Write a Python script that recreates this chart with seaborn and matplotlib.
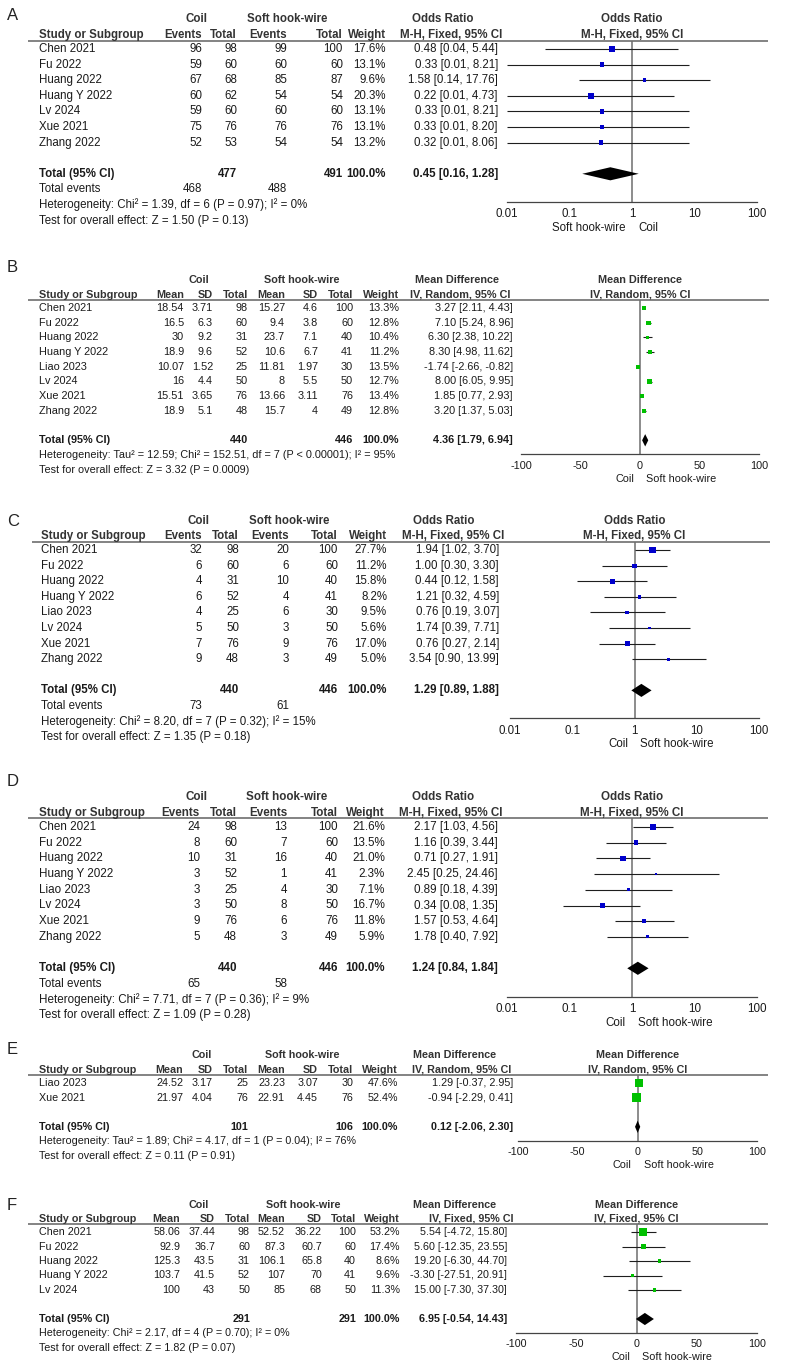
import numpy as np
import pandas as pd
import matplotlib
matplotlib.use("Agg")
import matplotlib.pyplot as plt
from matplotlib.ticker import NullLocator
import seaborn as sns

# ------------------------------------------------------------------ data
# Panel A (odds ratio)
studies_A = ["Chen 2021", "Fu 2022", "Huang 2022", "Huang Y 2022", "Lv 2024", "Xue 2021", "Zhang 2022"]
coil_ev_A = [96, 59, 67, 60, 59, 75, 52]
coil_n_A = [98, 60, 68, 62, 60, 76, 53]
soft_ev_A = [99, 60, 85, 54, 60, 76, 54]
soft_n_A = [100, 60, 87, 54, 60, 76, 54]
weight_A = [17.6, 13.1, 9.6, 20.3, 13.1, 13.1, 13.2]
est_A = [0.48, 0.33, 1.58, 0.22, 0.33, 0.33, 0.32]
lo_A = [0.04, 0.01, 0.14, 0.01, 0.01, 0.01, 0.01]
hi_A = [5.44, 8.21, 17.76, 4.73, 8.21, 8.20, 8.06]
total_A = [0.45, 0.16, 1.28]
total_n_A = [477, 491]
total_ev_A = [468, 488]
het_A = "Heterogeneity: Chi² = 1.39, df = 6 (P = 0.97); I² = 0%"
test_A = "Test for overall effect: Z = 1.50 (P = 0.13)"

# Panel B (mean difference, random)
studies_B = ["Chen 2021", "Fu 2022", "Huang 2022", "Huang Y 2022", "Liao 2023", "Lv 2024", "Xue 2021", "Zhang 2022"]
coil_mean_B = [18.54, 16.5, 30, 18.9, 10.07, 16, 15.51, 18.9]
coil_sd_B = [3.71, 6.3, 9.2, 9.6, 1.52, 4.4, 3.65, 5.1]
coil_n_B = [98, 60, 31, 52, 25, 50, 76, 48]
soft_mean_B = [15.27, 9.4, 23.7, 10.6, 11.81, 8, 13.66, 15.7]
soft_sd_B = [4.6, 3.8, 7.1, 6.7, 1.97, 5.5, 3.11, 4]
soft_n_B = [100, 60, 40, 41, 30, 50, 76, 49]
weight_B = [13.3, 12.8, 10.4, 11.2, 13.5, 12.7, 13.4, 12.8]
est_B = [3.27, 7.10, 6.30, 8.30, -1.74, 8.00, 1.85, 3.20]
lo_B = [2.11, 5.24, 2.38, 4.98, -2.66, 6.05, 0.77, 1.37]
hi_B = [4.43, 8.96, 10.22, 11.62, -0.82, 9.95, 2.93, 5.03]
total_B = [4.36, 1.79, 6.94]
total_n_B = [440, 446]
het_B = "Heterogeneity: Tau² = 12.59; Chi² = 152.51, df = 7 (P < 0.00001); I² = 95%"
test_B = "Test for overall effect: Z = 3.32 (P = 0.0009)"

# Panel C (odds ratio)
studies_C = ["Chen 2021", "Fu 2022", "Huang 2022", "Huang Y 2022", "Liao 2023", "Lv 2024", "Xue 2021", "Zhang 2022"]
coil_ev_C = [32, 6, 4, 6, 4, 5, 7, 9]
coil_n_C = [98, 60, 31, 52, 25, 50, 76, 48]
soft_ev_C = [20, 6, 10, 4, 6, 3, 9, 3]
soft_n_C = [100, 60, 40, 41, 30, 50, 76, 49]
weight_C = [27.7, 11.2, 15.8, 8.2, 9.5, 5.6, 17.0, 5.0]
est_C = [1.94, 1.00, 0.44, 1.21, 0.76, 1.74, 0.76, 3.54]
lo_C = [1.02, 0.30, 0.12, 0.32, 0.19, 0.39, 0.27, 0.90]
hi_C = [3.70, 3.30, 1.58, 4.59, 3.07, 7.71, 2.14, 13.99]
total_C = [1.29, 0.89, 1.88]
total_n_C = [440, 446]
total_ev_C = [73, 61]
het_C = "Heterogeneity: Chi² = 8.20, df = 7 (P = 0.32); I² = 15%"
test_C = "Test for overall effect: Z = 1.35 (P = 0.18)"

# Panel D (odds ratio)
studies_D = ["Chen 2021", "Fu 2022", "Huang 2022", "Huang Y 2022", "Liao 2023", "Lv 2024", "Xue 2021", "Zhang 2022"]
coil_ev_D = [24, 8, 10, 3, 3, 3, 9, 5]
coil_n_D = [98, 60, 31, 52, 25, 50, 76, 48]
soft_ev_D = [13, 7, 16, 1, 4, 8, 6, 3]
soft_n_D = [100, 60, 40, 41, 30, 50, 76, 49]
weight_D = [21.6, 13.5, 21.0, 2.3, 7.1, 16.7, 11.8, 5.9]
est_D = [2.17, 1.16, 0.71, 2.45, 0.89, 0.34, 1.57, 1.78]
lo_D = [1.03, 0.39, 0.27, 0.25, 0.18, 0.08, 0.53, 0.40]
hi_D = [4.56, 3.44, 1.91, 24.46, 4.39, 1.35, 4.64, 7.92]
total_D = [1.24, 0.84, 1.84]
total_n_D = [440, 446]
total_ev_D = [65, 58]
het_D = "Heterogeneity: Chi² = 7.71, df = 7 (P = 0.36); I² = 9%"
test_D = "Test for overall effect: Z = 1.09 (P = 0.28)"

# Panel E (mean difference, random)
studies_E = ["Liao 2023", "Xue 2021"]
coil_mean_E = [24.52, 21.97]
coil_sd_E = [3.17, 4.04]
coil_n_E = [25, 76]
soft_mean_E = [23.23, 22.91]
soft_sd_E = [3.07, 4.45]
soft_n_E = [30, 76]
weight_E = [47.6, 52.4]
est_E = [1.29, -0.94]
lo_E = [-0.37, -2.29]
hi_E = [2.95, 0.41]
total_E = [0.12, -2.06, 2.30]
total_n_E = [101, 106]
het_E = "Heterogeneity: Tau² = 1.89; Chi² = 4.17, df = 1 (P = 0.04); I² = 76%"
test_E = "Test for overall effect: Z = 0.11 (P = 0.91)"

# Panel F (mean difference, fixed)
studies_F = ["Chen 2021", "Fu 2022", "Huang 2022", "Huang Y 2022", "Lv 2024"]
coil_mean_F = [58.06, 92.9, 125.3, 103.7, 100]
coil_sd_F = [37.44, 36.7, 43.5, 41.5, 43]
coil_n_F = [98, 60, 31, 52, 50]
soft_mean_F = [52.52, 87.3, 106.1, 107, 85]
soft_sd_F = [36.22, 60.7, 65.8, 70, 68]
soft_n_F = [100, 60, 40, 41, 50]
weight_F = [53.2, 17.4, 8.6, 9.6, 11.3]
est_F = [5.54, 5.60, 19.20, -3.30, 15.00]
lo_F = [-4.72, -12.35, -6.30, -27.51, -7.30]
hi_F = [15.80, 23.55, 44.70, 20.91, 37.30]
total_F = [6.95, -0.54, 14.43]
total_n_F = [291, 291]
het_F = "Heterogeneity: Chi² = 2.17, df = 4 (P = 0.70); I² = 0%"
test_F = "Test for overall effect: Z = 1.82 (P = 0.07)"

or_ticks = [0.01, 0.1, 1, 10, 100]
or_tick_labels = ["0.01", "0.1", "1", "10", "100"]
md_ticks = [-100, -50, 0, 50, 100]
md_tick_labels = ["-100", "-50", "0", "50", "100"]

# ------------------------------------------------------------------ figure
W, H = 794, 1366
sns.set_style("white")
plt.rcParams["font.family"] = ["Liberation Sans", "DejaVu Sans"]

fig = plt.figure(figsize=(W / 100, H / 100), dpi=100)
fig.patch.set_facecolor("white")
ax0 = fig.add_axes([0, 0, 1, 1])
ax0.set_xlim(0, W)
ax0.set_ylim(H, 0)
ax0.axis("off")

TXT = "#1a1a1a"
HDR = "#333333"
BLUE = "#0000cc"
GREEN = "#00c000"


def txt(x, y, s, ha="left", fs=8.3, bold=False, color=TXT):
    ax0.text(x, y, s, ha=ha, va="center", fontsize=fs,
             fontweight="bold" if bold else "normal", color=color)


def ci_str(e, l, h):
    return f"{e:.2f} [{l:.2f}, {h:.2f}]"


def draw_forest(L, n, est, lo, hi, weight, total, log, color, y_line, fs, s):
    row0, sp = L["row0"], L["sp"]
    x0, x1 = L["fx"]
    axis_y = row0 + (n + (2.8 if log else 1.95)) * sp
    ax = fig.add_axes([x0 / W, 1 - axis_y / H, (x1 - x0) / W, (axis_y - y_line) / H])
    ax.patch.set_alpha(0)
    idx = np.arange(n)
    ax.hlines(idx, lo, hi, color="#1e1e1e", lw=0.8, zorder=2, clip_on=False)
    sizes = (1.23 * np.sqrt(np.array(weight)) * 0.72 * s) ** 2
    df = pd.DataFrame({"est": est, "row": idx})
    sns.scatterplot(data=df, x="est", y="row", marker="s", s=sizes, color=color,
                    edgecolor="none", linewidth=0, ax=ax, legend=False, zorder=3)
    yt = n + 1
    hh = 0.42
    ax.fill([total[1], total[0], total[2], total[0]], [yt, yt - hh, yt, yt + hh],
            color="black", lw=0, zorder=4)
    if log:
        ax.set_xscale("log")
        ax.set_xlim(0.01, 100)
        ax.set_xticks(or_ticks)
        ax.set_xticklabels(or_tick_labels)
        ref = 1
    else:
        ax.set_xlim(-100, 100)
        ax.set_xticks(md_ticks)
        ax.set_xticklabels(md_tick_labels)
        ref = 0
    ax.xaxis.set_minor_locator(NullLocator())
    ax.axvline(ref, color="#6e6e6e", lw=1.1, zorder=1)
    ax.set_ylim((axis_y - row0) / sp, (y_line - row0) / sp)
    ax.set_yticks([])
    ax.set_xlabel("")
    ax.set_ylabel("")
    for side in ["top", "left", "right"]:
        ax.spines[side].set_visible(False)
    ax.spines["bottom"].set_color("#444444")
    ax.spines["bottom"].set_linewidth(0.9)
    ax.tick_params(axis="x", direction="inout", length=5, width=0.9, colors="#444444",
                   labelcolor=TXT, labelsize=fs, pad=2)
    xr = x0 + (x1 - x0) * 0.5
    left_lab, right_lab = L["dir"]
    yd = axis_y + 26 * s
    txt(xr - 6, yd, left_lab, ha="right", fs=fs)
    txt(xr + 6, yd, right_lab, ha="left", fs=fs)
    return xr


def header_common(L, s, fs):
    row0 = L["row0"]
    y_h1 = row0 - 29.5 * s
    y_h2 = row0 - 14 * s
    y_line = row0 - 8.5 * s
    txt(7, L["label_y"], L["letter"], fs=12, color="#222222")
    txt(L["study_x"], y_h2, "Study or Subgroup", fs=fs, bold=True, color=HDR)
    ax0.plot([L["line_x0"], L["line_x1"]], [y_line, y_line], color="#7a7a7a",
             lw=1.3, solid_capstyle="butt")
    return y_h1, y_h2, y_line


def panel_or(L, studies, c_ev, c_n, s_ev, s_n, weight, est, lo, hi, total, tot_n, tot_ev, het, test):
    sp = L["sp"]
    s = sp / 15.6
    fs = 8.3 * s
    n = len(studies)
    y_h1, y_h2, y_line = header_common(L, s, fs)
    X = L["cols"]
    txt(L["coil_c"], y_h1, "Coil", ha="center", fs=fs, bold=True, color=HDR)
    txt(L["soft_c"], y_h1, "Soft hook-wire", ha="center", fs=fs, bold=True, color=HDR)
    txt(L["eff_c"], y_h1, "Odds Ratio", ha="center", fs=fs, bold=True, color=HDR)
    for lab, x in zip(["Events", "Total", "Events", "Total", "Weight"], X[:5]):
        txt(x, y_h2, lab, ha="right", fs=fs, bold=True, color=HDR)
    txt(L["meth_c"], y_h2, L["method"], ha="center", fs=fs, bold=True, color=HDR)
    for i in range(n):
        y = L["row0"] + i * sp
        txt(L["study_x"], y, studies[i], fs=fs)
        vals = [str(c_ev[i]), str(c_n[i]), str(s_ev[i]), str(s_n[i]), f"{weight[i]:.1f}%",
                ci_str(est[i], lo[i], hi[i])]
        for v, x in zip(vals, X):
            txt(x, y, v, ha="right", fs=fs)
    yt = L["row0"] + (n + 1) * sp
    txt(L["study_x"], yt, "Total (95% CI)", fs=fs, bold=True)
    txt(X[1], yt, str(tot_n[0]), ha="right", fs=fs, bold=True)
    txt(X[3], yt, str(tot_n[1]), ha="right", fs=fs, bold=True)
    txt(X[4], yt, "100.0%", ha="right", fs=fs, bold=True)
    txt(X[5], yt, ci_str(*total), ha="right", fs=fs, bold=True)
    ye = L["row0"] + (n + 2) * sp
    txt(L["study_x"], ye, "Total events", fs=fs)
    txt(X[0], ye, str(tot_ev[0]), ha="right", fs=fs)
    txt(X[2], ye, str(tot_ev[1]), ha="right", fs=fs)
    txt(L["study_x"], L["row0"] + (n + 3) * sp, het, fs=fs)
    txt(L["study_x"], L["row0"] + (n + 4) * sp, test, fs=fs)
    xr = draw_forest(L, n, est, lo, hi, weight, total, True, BLUE, y_line, fs, s)
    txt(xr, y_h1, "Odds Ratio", ha="center", fs=fs, bold=True, color=HDR)
    txt(xr, y_h2, L["method"], ha="center", fs=fs, bold=True, color=HDR)


def panel_md(L, studies, c_m, c_sd, c_n, s_m, s_sd, s_n, weight, est, lo, hi, total, tot_n, het, test):
    sp = L["sp"]
    s = sp / 15.6
    fs = 8.3 * s
    n = len(studies)
    y_h1, y_h2, y_line = header_common(L, s, fs)
    X = L["cols"]
    txt(L["coil_c"], y_h1, "Coil", ha="center", fs=fs, bold=True, color=HDR)
    txt(L["soft_c"], y_h1, "Soft hook-wire", ha="center", fs=fs, bold=True, color=HDR)
    txt(L["eff_c"], y_h1, "Mean Difference", ha="center", fs=fs, bold=True, color=HDR)
    for lab, x in zip(["Mean", "SD", "Total", "Mean", "SD", "Total", "Weight"], X[:7]):
        txt(x, y_h2, lab, ha="right", fs=fs, bold=True, color=HDR)
    txt(L["meth_c"], y_h2, L["method"], ha="center", fs=fs, bold=True, color=HDR)
    for i in range(n):
        y = L["row0"] + i * sp
        txt(L["study_x"], y, studies[i], fs=fs)
        vals = [f"{c_m[i]:g}", f"{c_sd[i]:g}", str(c_n[i]), f"{s_m[i]:g}", f"{s_sd[i]:g}",
                str(s_n[i]), f"{weight[i]:.1f}%", ci_str(est[i], lo[i], hi[i])]
        for v, x in zip(vals, X):
            txt(x, y, v, ha="right", fs=fs)
    yt = L["row0"] + (n + 1) * sp
    txt(L["study_x"], yt, "Total (95% CI)", fs=fs, bold=True)
    txt(X[2], yt, str(tot_n[0]), ha="right", fs=fs, bold=True)
    txt(X[5], yt, str(tot_n[1]), ha="right", fs=fs, bold=True)
    txt(X[6], yt, "100.0%", ha="right", fs=fs, bold=True)
    txt(X[7], yt, ci_str(*total), ha="right", fs=fs, bold=True)
    txt(L["study_x"], L["row0"] + (n + 2) * sp, het, fs=fs)
    txt(L["study_x"], L["row0"] + (n + 3) * sp, test, fs=fs)
    xr = draw_forest(L, n, est, lo, hi, weight, total, False, GREEN, y_line, fs, s)
    txt(xr, y_h1, "Mean Difference", ha="center", fs=fs, bold=True, color=HDR)
    txt(xr, y_h2, L["method"], ha="center", fs=fs, bold=True, color=HDR)


# ------------------------------------------------------------------ layouts
LA = dict(letter="A", label_y=15, row0=49, sp=15.6, study_x=39, line_x0=28, line_x1=768,
          fx=(507, 757), cols=[202, 237, 287, 343, 386, 498], coil_c=197, soft_c=287,
          eff_c=443, meth_c=451, method="M-H, Fixed, 95% CI", dir=("Soft hook-wire", "Coil"))
LB = dict(letter="B", label_y=268, row0=308, sp=14.7, study_x=39, line_x0=28, line_x1=769,
          fx=(521, 759), cols=[184, 213, 248, 285, 318, 353, 399, 513], coil_c=199, soft_c=302,
          eff_c=457, meth_c=460, method="IV, Random, 95% CI", dir=("Coil", "Soft hook-wire"))
LC = dict(letter="C", label_y=521, row0=550, sp=15.6, study_x=41, line_x0=32, line_x1=770,
          fx=(510, 759), cols=[202, 239, 289, 338, 387, 499], coil_c=198, soft_c=289,
          eff_c=444, meth_c=453, method="M-H, Fixed, 95% CI", dir=("Coil", "Soft hook-wire"))
LD = dict(letter="D", label_y=782, row0=827, sp=15.7, study_x=39, line_x0=28, line_x1=768,
          fx=(507, 757), cols=[200, 237, 287, 338, 385, 498], coil_c=196, soft_c=287,
          eff_c=443, meth_c=451, method="M-H, Fixed, 95% CI", dir=("Coil", "Soft hook-wire"))
LE = dict(letter="E", label_y=1050, row0=1083, sp=14.6, study_x=39, line_x0=28, line_x1=768,
          fx=(518, 757), cols=[183, 213, 248, 285, 318, 353, 398, 513], coil_c=202, soft_c=302,
          eff_c=455, meth_c=462, method="IV, Random, 95% CI", dir=("Coil", "Soft hook-wire"))
LF = dict(letter="F", label_y=1205, row0=1232, sp=14.5, study_x=39, line_x0=28, line_x1=768,
          fx=(516, 757), cols=[180, 215, 250, 285, 322, 356, 400, 507], coil_c=199, soft_c=303,
          eff_c=455, meth_c=471, method="IV, Fixed, 95% CI", dir=("Coil", "Soft hook-wire"))

panel_or(LA, studies_A, coil_ev_A, coil_n_A, soft_ev_A, soft_n_A, weight_A, est_A, lo_A, hi_A,
         total_A, total_n_A, total_ev_A, het_A, test_A)
panel_md(LB, studies_B, coil_mean_B, coil_sd_B, coil_n_B, soft_mean_B, soft_sd_B, soft_n_B,
         weight_B, est_B, lo_B, hi_B, total_B, total_n_B, het_B, test_B)
panel_or(LC, studies_C, coil_ev_C, coil_n_C, soft_ev_C, soft_n_C, weight_C, est_C, lo_C, hi_C,
         total_C, total_n_C, total_ev_C, het_C, test_C)
panel_or(LD, studies_D, coil_ev_D, coil_n_D, soft_ev_D, soft_n_D, weight_D, est_D, lo_D, hi_D,
         total_D, total_n_D, total_ev_D, het_D, test_D)
panel_md(LE, studies_E, coil_mean_E, coil_sd_E, coil_n_E, soft_mean_E, soft_sd_E, soft_n_E,
         weight_E, est_E, lo_E, hi_E, total_E, total_n_E, het_E, test_E)
panel_md(LF, studies_F, coil_mean_F, coil_sd_F, coil_n_F, soft_mean_F, soft_sd_F, soft_n_F,
         weight_F, est_F, lo_F, hi_F, total_F, total_n_F, het_F, test_F)

fig.savefig("out.png", dpi=100, facecolor="white")
